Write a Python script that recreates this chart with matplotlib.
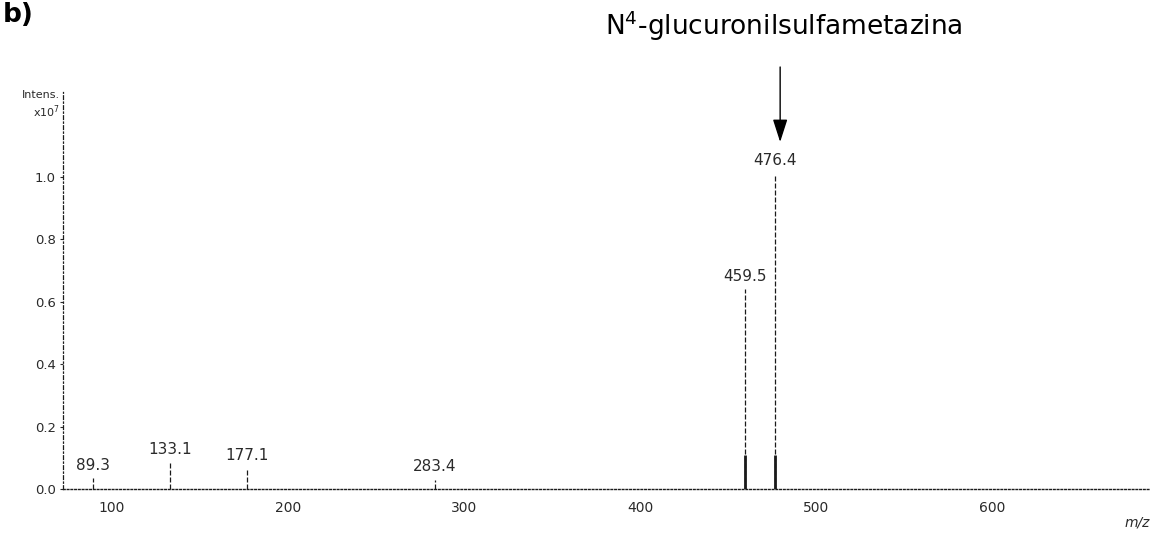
import matplotlib
matplotlib.use("Agg")
import matplotlib.pyplot as plt

# ---- data ----
peak_mz = [89.3, 133.1, 177.1, 283.4, 459.5, 476.4]
peak_int = [0.035, 0.085, 0.065, 0.03, 0.64, 1.01]      # x10^7
peak_labels = ["89.3", "133.1", "177.1", "283.4", "459.5", "476.4"]
x_ticks = [100, 200, 300, 400, 500, 600]
y_ticks = [0.0, 0.2, 0.4, 0.6, 0.8, 1.0]
compound = "N$^{4}$-glucuronilsulfametazina"
target_mz = 476.4

W, H = 1155, 542
fig = plt.figure(figsize=(W / 100, H / 100), dpi=100)
fig.patch.set_facecolor("white")

base_px, top_px = 489, 92
left_px, right_px = 63, 1150
px_per_unit = 312.0
ax = fig.add_axes([left_px / W, 1 - base_px / H,
                   (right_px - left_px) / W, (base_px - top_px) / H])
ax.set_xlim(72.4, 689.3)
ax.set_ylim(0, (base_px - top_px) / px_per_unit)

ink = "#1a1a1a"
# peaks
ax.vlines(peak_mz, 0, peak_int, colors=ink, linewidth=0.9,
          linestyles=(0, (4, 1.6)))
big = [(m, h) for m, h in zip(peak_mz, peak_int) if h > 0.3]
ax.vlines([m for m, _ in big], 0, [min(h, 0.11) for _, h in big],
          colors=ink, linewidth=2.0)
for m, h, lab in zip(peak_mz, peak_int, peak_labels):
    ax.annotate(lab, (m, h), xytext=(0, 4), textcoords="offset points",
                ha="center", va="bottom", fontsize=11, color="#2a2a2a")

# spines / ticks
for s in ("top", "right"):
    ax.spines[s].set_visible(False)
ax.spines["bottom"].set_linestyle((0, (1.2, 1.5)))
ax.spines["bottom"].set_linewidth(1.0)
ax.spines["bottom"].set_color(ink)
ax.spines["left"].set_linestyle((0, (3, 2, 1, 2)))
ax.spines["left"].set_linewidth(0.9)
ax.spines["left"].set_color(ink)

ax.set_xticks(x_ticks)
ax.set_xticklabels([str(t) for t in x_ticks])
ax.set_yticks(y_ticks)
ax.set_yticklabels([f"{t:.1f}" for t in y_ticks])
ax.tick_params(axis="x", length=0, pad=9, labelsize=10, colors="#2a2a2a")
ax.tick_params(axis="y", length=2, width=0.8, pad=3, labelsize=9.5,
               colors="#2a2a2a")

# axis captions
fig.text(60 / W, 1 - 90 / H, "Intens.", ha="right", va="top",
         fontsize=8, color="#2a2a2a")
fig.text(60 / W, 1 - 103 / H, "x10$^{7}$", ha="right", va="top",
         fontsize=8, color="#2a2a2a")
fig.text(1137 / W, 1 - 522 / H, "m/z", ha="center", va="center",
         fontsize=10, style="italic", color="#2a2a2a")

# panel label and compound annotation
fig.text(3 / W, 1 - 2 / H, "b)", ha="left", va="top",
         fontsize=19, fontweight="bold", color="black")
fig.text(784 / W, 1 - 35 / H, compound, ha="center", va="baseline",
         fontsize=19, color="black")
tip = (base_px - 142) / px_per_unit
tail = (base_px - 67) / px_per_unit
ax.annotate("", xy=(target_mz + 3, tip), xytext=(target_mz + 3, tail),
            annotation_clip=False,
            arrowprops=dict(arrowstyle="-|>,head_length=1.4,head_width=0.45",
                            color="black", lw=1.0, shrinkA=0, shrinkB=0))

fig.savefig("out.png", dpi=100, facecolor="white")
